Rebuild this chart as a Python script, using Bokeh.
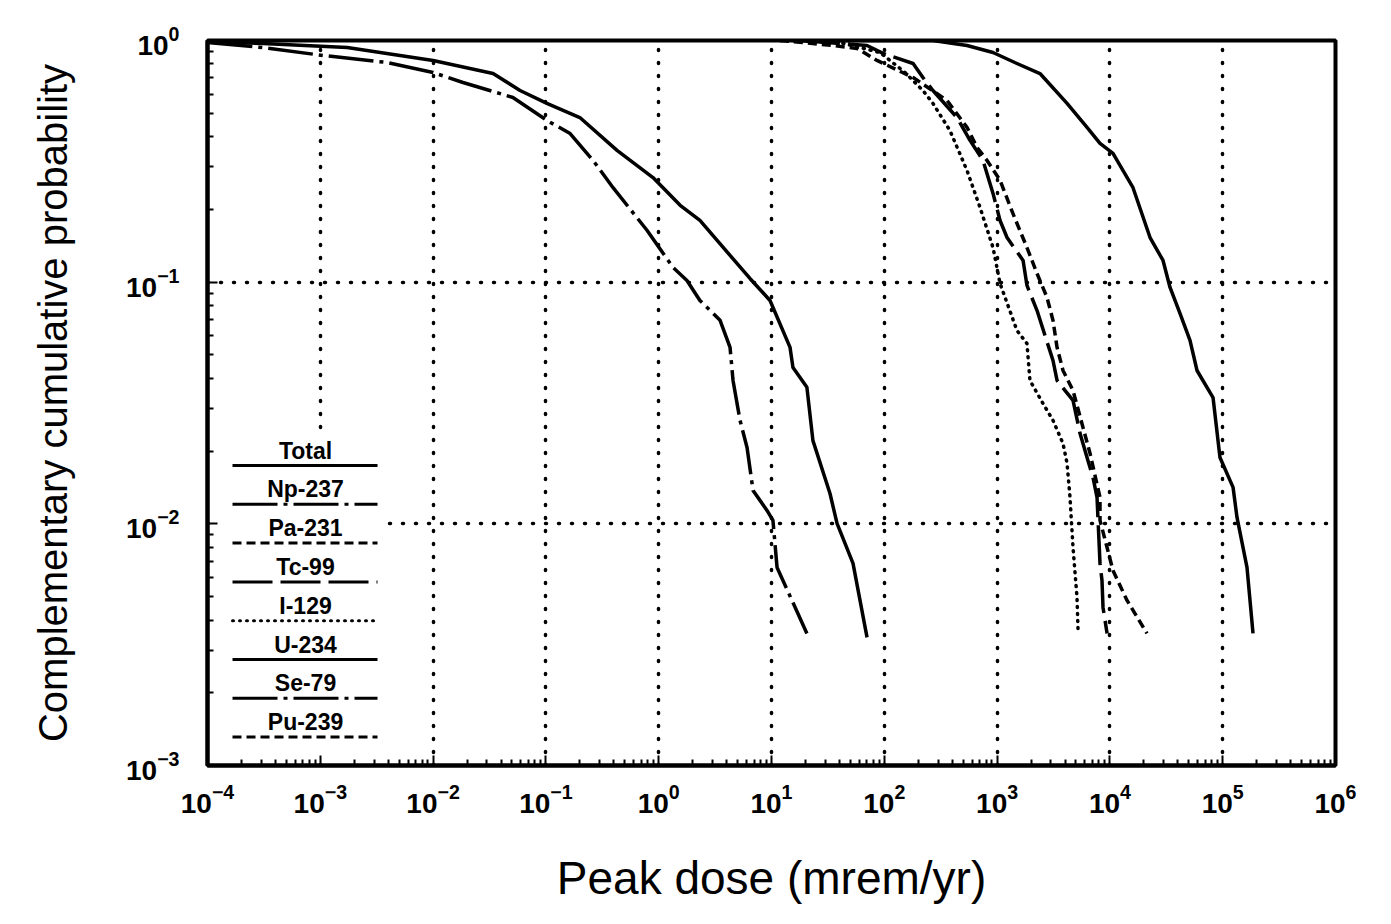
import numpy as np
from bokeh.plotting import figure
from bokeh.models import Range1d, FixedTicker
from bokeh.core.properties import value
from bokeh.embed import file_html
from bokeh.resources import INLINE

# ---------------- data ----------------
total_x = [17.9, 270, 541, 920, 1500, 2400, 4170, 6270, 8170, 10650, 16030, 22690,
           29580, 34130, 41810, 51300, 59200, 82100, 94600, 123600, 133900, 164200, 185700]
total_y = [1.0, 1.0, 0.953, 0.892, 0.803, 0.730, 0.549, 0.437, 0.375, 0.341, 0.246, 0.153,
           0.123, 0.0951, 0.0742, 0.0574, 0.0431, 0.0333, 0.0188, 0.01415, 0.01063, 0.0066, 0.00352]

pa231_x = [11.9, 19.0, 35.1, 57.3, 86.1, 180, 360, 541, 664, 814, 1062, 1383, 1840, 2260,
           2770, 3130, 3400, 3840, 4710, 6670, 8170, 8170, 9440, 10650, 14190, 21330]
pa231_y = [1.0, 0.981, 0.953, 0.927, 0.827, 0.703, 0.565, 0.437, 0.361, 0.319, 0.264, 0.192,
           0.139, 0.1086, 0.0864, 0.0695, 0.0537, 0.0431, 0.0356, 0.01955, 0.01286, 0.01033,
           0.00798, 0.00641, 0.00482, 0.00352]

tc99_x = [17.9, 70.3, 97.4, 180, 220, 270, 441, 575, 750, 920, 1062, 1225, 1700, 1840, 2260,
          3130, 3400, 4710, 5430, 6270, 7080, 7690, 8170, 8510, 8690, 9440]
tc99_y = [1.0, 0.953, 0.884, 0.803, 0.703, 0.621, 0.480, 0.386, 0.319, 0.233, 0.180, 0.153,
          0.123, 0.0969, 0.0763, 0.0474, 0.0392, 0.0324, 0.0237, 0.0188, 0.01556, 0.01286,
          0.00686, 0.00583, 0.00451, 0.00352]

i129_x = [11.9, 40.5, 91.6, 152.7, 220, 270, 382, 541, 705, 920, 1062, 1500, 1840, 1955,
          2550, 3130, 3840, 4170, 4430, 4710, 5110, 5220]
i129_y = [1.0, 0.981, 0.892, 0.737, 0.621, 0.549, 0.424, 0.290, 0.204, 0.139, 0.0988, 0.0631,
          0.0557, 0.0392, 0.0315, 0.0268, 0.0215, 0.0178, 0.01286, 0.00798, 0.00496, 0.00362]

u234_x = [1e-4, 3.1e-4, 1.73e-3, 0.0100, 0.034, 0.059, 0.102, 0.200, 0.427, 0.89, 1.55, 2.32,
          6.44, 9.7, 14.6, 15.5, 20.6, 23.3, 33.0, 38.1, 52.8, 70.3]
u234_y = [0.99, 0.972, 0.935, 0.827, 0.730, 0.621, 0.549, 0.480, 0.351, 0.271, 0.208, 0.180,
          0.1036, 0.0840, 0.0537, 0.0444, 0.0367, 0.0221, 0.01335, 0.01004, 0.00686, 0.00339]

se79_x = [1e-4, 3.1e-4, 1.06e-3, 3.9e-3, 0.0100, 0.0184, 0.051, 0.102, 0.164, 0.262, 0.394,
          0.787, 1.34, 1.78, 2.32, 3.50, 4.29, 4.56, 5.26, 6.07, 6.86, 9.12, 10.3, 11.2, 20.6]
se79_y = [0.981, 0.935, 0.867, 0.811, 0.737, 0.670, 0.581, 0.467, 0.412, 0.319, 0.246, 0.164,
          0.115, 0.1016, 0.0840, 0.0695, 0.0537, 0.0392, 0.0268, 0.0207, 0.01374, 0.01136,
          0.01033, 0.0066, 0.00352]

legend_names = ["Total", "Np-237", "Pa-231", "Tc-99", "I-129", "U-234", "Se-79", "Pu-239"]

x_decades = list(range(-4, 7))   # tick exponents 10^-4 .. 10^6
y_decades = list(range(-3, 1))   # tick exponents 10^-3 .. 10^0

# ---------------- styles ----------------
DASHDOT = "45 6 4 6"
SHORTDASH = "9 5"
LONGDASH = "40 8"
DOTTED = "1 6"
styles = {
    "Total": dict(line_dash="solid"),
    "Np-237": dict(line_dash=DASHDOT),
    "Pa-231": dict(line_dash=SHORTDASH),
    "Tc-99": dict(line_dash=LONGDASH),
    "I-129": dict(line_dash=DOTTED, line_cap="round"),
    "U-234": dict(line_dash="solid"),
    "Se-79": dict(line_dash=DASHDOT),
    "Pu-239": dict(line_dash=SHORTDASH),
}

XMIN, XMAX, YMIN, YMAX = 1e-4, 1e6, 1e-3, 1.0
W, H = 1391, 924
BL, BR, BT, BB = 207, 56, 40, 159

p = figure(width=W, height=H, x_axis_type="log", y_axis_type="log",
           x_range=Range1d(XMIN, XMAX), y_range=Range1d(YMIN, YMAX),
           output_backend="svg", toolbar_location=None,
           min_border_left=BL, min_border_right=BR, min_border_top=BT, min_border_bottom=BB)


def log_ticker(decs):
    major = [10.0 ** d for d in decs]
    minor = [m * 10.0 ** d for d in decs[:-1] for m in range(2, 10)]
    return FixedTicker(ticks=major, minor_ticks=minor)


p.xaxis.ticker = log_ticker(x_decades)
p.yaxis.ticker = log_ticker(y_decades)
p.xgrid.ticker = log_ticker(x_decades)
p.ygrid.ticker = log_ticker(y_decades)

p.background_fill_color = "white"
p.border_fill_color = "white"
p.outline_line_color = "black"
p.outline_line_width = 4

FONT = "Liberation Sans"
for ax in (p.xaxis[0], p.yaxis[0]):
    ax.axis_line_color = "black"
    ax.axis_line_width = 4
    ax.major_tick_in = 10
    ax.major_tick_out = 0
    ax.minor_tick_in = 6
    ax.minor_tick_out = 0
    ax.major_tick_line_width = 2
    ax.minor_tick_line_width = 2
    ax.major_tick_line_color = "black"
    ax.minor_tick_line_color = "black"
    ax.major_label_text_font = FONT
    ax.major_label_text_font_style = "bold"
    ax.major_label_text_font_size = "28px"
    ax.major_label_text_color = "black"
    ax.axis_label_text_font = FONT
    ax.axis_label_text_font_style = "normal"
    ax.axis_label_text_color = "black"

p.xaxis.axis_label = "Peak dose (mrem/yr)"
p.xaxis.axis_label_text_font_size = "46px"
p.xaxis.major_label_standoff = 18
p.xaxis.axis_label_standoff = 36
p.yaxis.axis_label = "Complementary cumulative probability"
p.yaxis.axis_label_text_font_size = "40px"
p.yaxis.major_label_standoff = 28
p.yaxis.axis_label_standoff = 48

for g in (p.xgrid[0], p.ygrid[0]):
    g.grid_line_color = "black"
    g.grid_line_width = 3.5
    g.grid_line_dash = "1 12"
    g.grid_line_cap = "round"
    g.minor_grid_line_color = None

LW = 3.5
curves = [
    ("Se-79", se79_x, se79_y),
    ("U-234", u234_x, u234_y),
    ("I-129", i129_x, i129_y),
    ("Tc-99", tc99_x, tc99_y),
    ("Pa-231", pa231_x, pa231_y),
    ("Total", total_x, total_y),
]
for name, xs, ys in curves:
    p.line(xs, ys, line_color="black", line_width=LW, line_join="round", **styles[name])

# ---------------- hand-drawn legend (label above its line sample) ----------------
lxmin, lxmax = np.log10(XMIN), np.log10(XMAX)
lymin, lymax = np.log10(YMIN), np.log10(YMAX)
fw = W - BL - BR
fh = H - BT - BB


def dx(px):
    return 10 ** (lxmin + (px - BL) / fw * (lxmax - lxmin))


def dy(py):
    return 10 ** (lymax - (py - BT) / fh * (lymax - lymin))


# white panel hiding the grid behind the legend
p.quad(left=[dx(BL + 3)], right=[dx(383)], top=[dy(432)], bottom=[dy(H - BB - 3)],
       fill_color="white", line_color=None)

LEG_X0, LEG_X1, LEG_XC = 232, 377, 305
LEG_TOP, LEG_STEP = 450, 38.8
for i, name in enumerate(legend_names):
    ty = LEG_TOP + i * LEG_STEP
    ly = ty + 15
    p.text(x=[dx(LEG_XC)], y=[dy(ty)], text=[name], text_font=value(FONT),
           text_font_style="bold", text_font_size="23px", text_align="center",
           text_baseline="middle", text_color="black")
    p.line([dx(LEG_X0), dx(LEG_X1)], [dy(ly), dy(ly)], line_color="black",
           line_width=3, **styles[name])

open("out.html", "w").write(file_html(p, INLINE))
